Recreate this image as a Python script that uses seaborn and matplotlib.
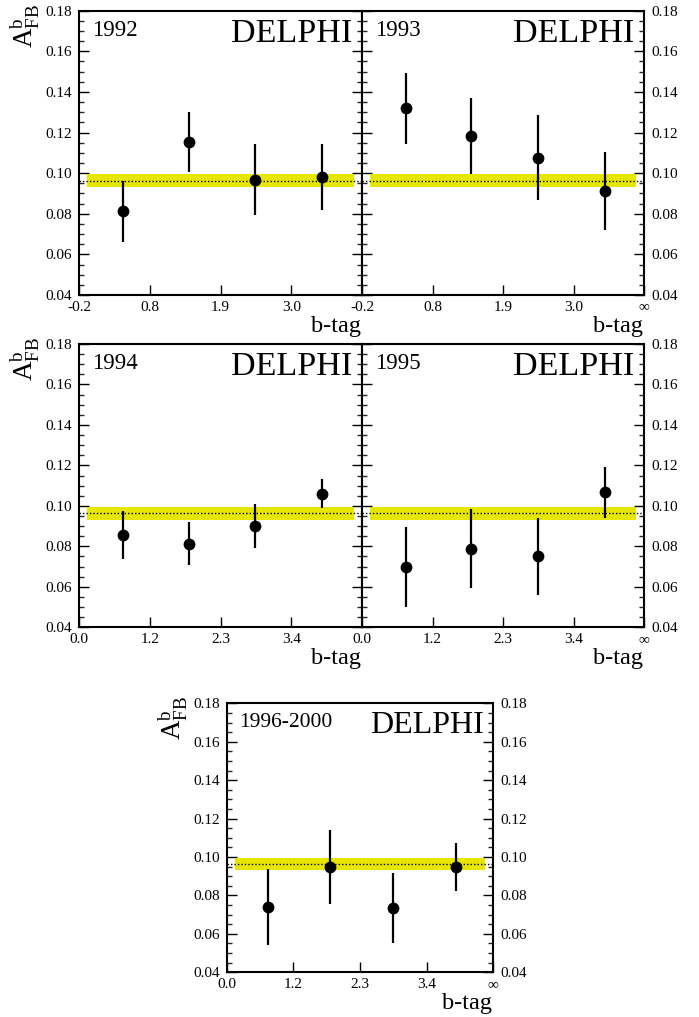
import matplotlib
matplotlib.use('Agg')
import matplotlib.pyplot as plt
import matplotlib.transforms as mtrans
from matplotlib.ticker import MultipleLocator, FormatStrFormatter, FixedLocator
import seaborn as sns
import numpy as np
import pandas as pd

# ---------------- data ----------------
bin_pos = [0.62, 1.55, 2.49, 3.44]          # b-tag bin centres (axis units)
tick_pos = [0, 1, 2, 3, 4]
labels_92_93 = ['-0.2', '0.8', '1.9', '3.0', '\u221e']
labels_94_00 = ['0.0', '1.2', '2.3', '3.4', '\u221e']

years = ['1992', '1993', '1994', '1995', '1996-2000']
afb_1992 = [0.0812, 0.1153, 0.0968, 0.0983]
err_1992 = [0.0150, 0.0149, 0.0176, 0.0163]
afb_1993 = [0.1319, 0.1185, 0.1075, 0.0911]
err_1993 = [0.0175, 0.0187, 0.0209, 0.0191]
afb_1994 = [0.0858, 0.0812, 0.0901, 0.1060]
err_1994 = [0.0119, 0.0106, 0.0110, 0.0072]
afb_1995 = [0.0698, 0.0789, 0.0751, 0.1067]
err_1995 = [0.0196, 0.0194, 0.0190, 0.0127]
afb_9600 = [0.0740, 0.0948, 0.0734, 0.0948]
err_9600 = [0.0200, 0.0192, 0.0184, 0.0123]

combined = 0.0963
combined_err = 0.0033
band_x = [0.12, 3.88]

# ---------------- style ----------------
sns.set_theme(style='ticks')
plt.rcParams['font.family'] = ['Liberation Serif', 'DejaVu Serif']
plt.rcParams['mathtext.fontset'] = 'custom'
plt.rcParams['mathtext.rm'] = 'Liberation Serif'
plt.rcParams['mathtext.it'] = 'Liberation Serif:italic'
plt.rcParams['mathtext.bf'] = 'Liberation Serif:bold'

W, H = 699, 1017
fig = plt.figure(figsize=(W / 100, H / 100), dpi=100)

def rect(l, t, r, b):
    return [l / W, 1 - b / H, (r - l) / W, (b - t) / H]

panels = [
    dict(year='1992', y=afb_1992, e=err_1992, lab=labels_92_93, rect=rect(79, 10.7, 362, 295), side='left'),
    dict(year='1993', y=afb_1993, e=err_1993, lab=labels_92_93, rect=rect(362, 10.7, 644, 295), side='right'),
    dict(year='1994', y=afb_1994, e=err_1994, lab=labels_94_00, rect=rect(79, 344, 362, 627.3), side='left'),
    dict(year='1995', y=afb_1995, e=err_1995, lab=labels_94_00, rect=rect(362, 344, 644, 627.3), side='right'),
    dict(year='1996-2000', y=afb_9600, e=err_9600, lab=labels_94_00, rect=rect(226.7, 703.3, 493.3, 972.3), side='both'),
]

yellow = '#e6e600'

for p in panels:
    ax = fig.add_axes(p['rect'])
    ax.set_facecolor('white')
    ax.set_xlim(0, 4)
    ax.set_ylim(0.04, 0.18)

    # combined band and central value
    ax.fill_between(band_x, combined - combined_err, combined + combined_err,
                    color=yellow, lw=0, zorder=1)
    ax.axhline(combined, color='black', lw=1.0, ls=(0, (1, 1.5)), zorder=2)

    df = pd.DataFrame({'x': bin_pos, 'y': p['y'], 'e': p['e']})
    ax.errorbar(df['x'], df['y'], yerr=df['e'], fmt='none', ecolor='black',
                elinewidth=1.6, capsize=0, zorder=3)
    sns.scatterplot(data=df, x='x', y='y', ax=ax, color='black', s=72,
                    edgecolor='black', linewidth=0, zorder=4, legend=False)

    ax.set_xlabel('')
    ax.set_ylabel('')

    # ticks
    ax.xaxis.set_major_locator(FixedLocator(tick_pos))
    labs = list(p['lab'])
    if p['side'] == 'left':
        labs[-1] = ''
    ax.set_xticklabels(labs)
    ax.yaxis.set_major_locator(MultipleLocator(0.02))
    ax.yaxis.set_minor_locator(MultipleLocator(0.005))
    ax.yaxis.set_major_formatter(FormatStrFormatter('%.2f'))
    ax.tick_params(axis='x', which='major', direction='in', length=7, width=1.0,
                   top=False, bottom=True, labelsize=11, pad=4, colors='black')
    ax.tick_params(axis='y', which='major', direction='in', length=7, width=1.0,
                   left=True, right=True, labelsize=11, pad=5, colors='black')
    ax.tick_params(axis='y', which='minor', direction='in', length=3.5, width=1.0,
                   left=True, right=True)
    if p['side'] == 'left':
        ax.tick_params(axis='y', which='both', labelleft=True, labelright=False)
    elif p['side'] == 'right':
        ax.tick_params(axis='y', which='both', labelleft=False, labelright=True)
    else:
        ax.tick_params(axis='y', which='both', labelleft=True, labelright=True)

    for s in ax.spines.values():
        s.set_visible(True)
        s.set_linewidth(1.5)
        s.set_color('black')

    # panel texts
    small = p['side'] == 'both'
    ax.text(0.045, 0.912, p['year'], transform=ax.transAxes,
            ha='left', va='baseline', fontsize=16.5 if not small else 15.5, color='black')
    ax.text(0.965, 0.89, 'DELPHI', transform=ax.transAxes,
            ha='right', va='baseline', fontsize=24.5 if not small else 23, color='black')

    off = mtrans.ScaledTranslation(-0.01, -0.37, fig.dpi_scale_trans)
    ax.text(1.0, 0.0, 'b-tag', transform=ax.transAxes + off,
            ha='right', va='baseline', fontsize=17.5, color='black')

    if p['side'] in ('left', 'both'):
        off2 = mtrans.ScaledTranslation(-0.37, 0.07, fig.dpi_scale_trans)
        ax.text(0.0, 1.0, r'$\mathrm{A}^{\mathrm{b}}_{\mathrm{FB}}$', transform=ax.transAxes + off2,
                ha='right', va='top', rotation=90, fontsize=19.5, color='black')

fig.savefig('out.png', dpi=100, facecolor='white')
